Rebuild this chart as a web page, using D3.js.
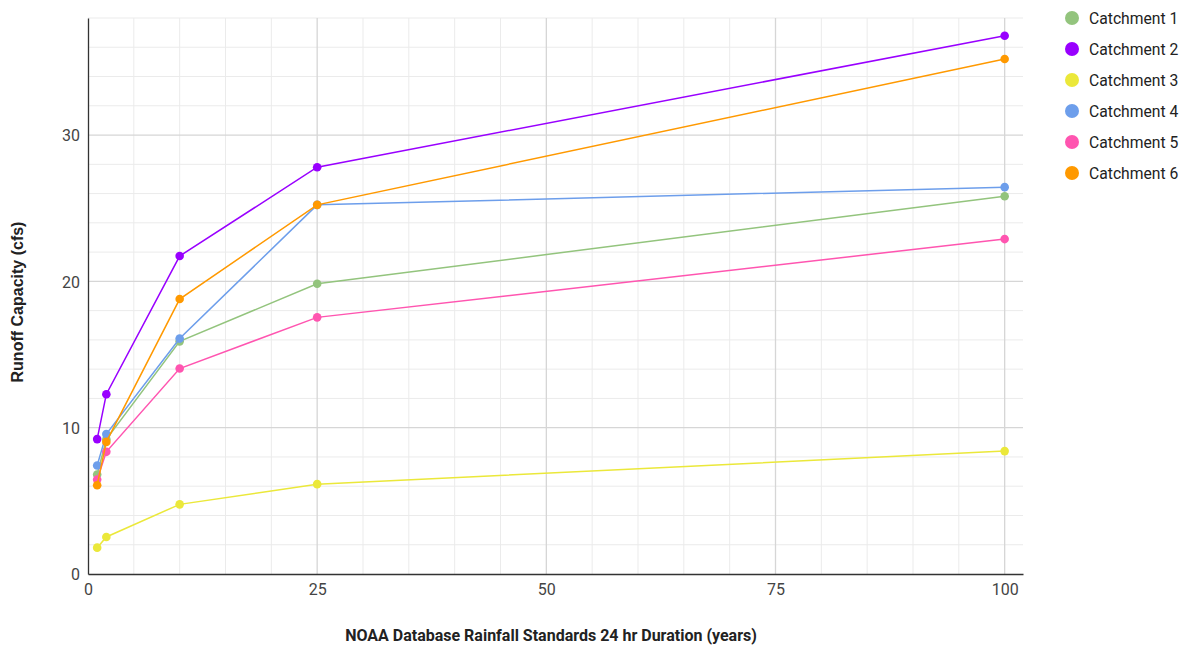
<!DOCTYPE html>
<html>
<head>
<meta charset="utf-8">
<script src="https://cdn.jsdelivr.net/npm/d3@7"></script>
<style>
  html, body { margin: 0; padding: 0; background: #fff; }
  svg { display: block; font-family: Roboto, "Noto Sans", sans-serif; }
</style>
</head>
<body>
<svg id="chart" width="1187" height="645"></svg>
<script>
// Return periods (years) on the x axis
const years = [1, 2, 10, 25, 100];

// Runoff capacity (cfs) per catchment
const catchment1 = [6.8, 9.2, 15.9, 19.84, 25.82];
const catchment2 = [9.22, 12.29, 21.73, 27.8, 36.79];
const catchment3 = [1.8, 2.53, 4.76, 6.14, 8.4];
const catchment4 = [7.42, 9.56, 16.09, 25.23, 26.44];
const catchment5 = [6.46, 8.35, 14.04, 17.54, 22.89];
const catchment6 = [6.07, 9.03, 18.79, 25.23, 35.2];

const seriesNames = ["Catchment 1", "Catchment 2", "Catchment 3", "Catchment 4", "Catchment 5", "Catchment 6"];
const seriesColors = ["#93c47d", "#9900ff", "#ebe83a", "#6d9eeb", "#ff55b0", "#ff9900"];

const xTicks = [0, 25, 50, 75, 100];
const yTicks = [0, 10, 20, 30];

const xTitle = "NOAA Database Rainfall Standards 24 hr Duration (years)";
const yTitle = "Runoff Capacity (cfs)";

const series = [catchment1, catchment2, catchment3, catchment4, catchment5, catchment6].map((vals, i) => ({
  name: seriesNames[i],
  color: seriesColors[i],
  points: vals.map((v, j) => ({ x: years[j], y: v }))
}));

const svg = d3.select("#chart");
const plot = { left: 88, right: 1023, top: 18, bottom: 574 };

const x = d3.scaleLinear().domain([0, 102]).range([plot.left, plot.right]);
const y = d3.scaleLinear().domain([0, 38]).range([plot.bottom, plot.top]);

const grid = svg.append("g");

// minor grid
grid.selectAll(".vminor").data(d3.range(5, 102, 5).filter(v => v % 25 !== 0))
  .join("line")
  .attr("x1", d => x(d)).attr("x2", d => x(d))
  .attr("y1", plot.top).attr("y2", plot.bottom)
  .attr("stroke", "#ebebeb").attr("stroke-width", 1);
grid.selectAll(".hminor").data(d3.range(2, 39, 2).filter(v => v % 10 !== 0))
  .join("line")
  .attr("x1", plot.left).attr("x2", plot.right)
  .attr("y1", d => y(d)).attr("y2", d => y(d))
  .attr("stroke", "#ebebeb").attr("stroke-width", 1);

// major grid
grid.selectAll(".vmajor").data(xTicks.filter(v => v > 0))
  .join("line")
  .attr("x1", d => x(d)).attr("x2", d => x(d))
  .attr("y1", plot.top).attr("y2", plot.bottom)
  .attr("stroke", "#d6d6d6").attr("stroke-width", 1.3);
grid.selectAll(".hmajor").data(yTicks.filter(v => v > 0))
  .join("line")
  .attr("x1", plot.left).attr("x2", plot.right)
  .attr("y1", d => y(d)).attr("y2", d => y(d))
  .attr("stroke", "#d6d6d6").attr("stroke-width", 1.3);

// axes
const xAxis = svg.append("g")
  .attr("transform", `translate(0,${plot.bottom})`)
  .call(d3.axisBottom(x).tickValues(xTicks).tickSize(0).tickPadding(10));
xAxis.select(".domain").attr("stroke", "#333").attr("stroke-width", 1.3);
xAxis.selectAll("text").attr("font-size", 16).attr("fill", "#444").attr("font-family", "Roboto, sans-serif");

const yAxis = svg.append("g")
  .attr("transform", `translate(${plot.left},0)`)
  .call(d3.axisLeft(y).tickValues(yTicks).tickSize(0).tickPadding(8));
yAxis.select(".domain").attr("stroke", "#333").attr("stroke-width", 1.3);
yAxis.selectAll("text").attr("font-size", 16).attr("fill", "#444").attr("font-family", "Roboto, sans-serif").attr("dy", "0.36em");

// axis titles
svg.append("text")
  .attr("x", 551).attr("y", 641)
  .attr("text-anchor", "middle")
  .attr("font-size", 16).attr("font-weight", "bold").attr("fill", "#222")
  .text(xTitle);
svg.append("text")
  .attr("transform", `translate(23,302) rotate(-90)`)
  .attr("text-anchor", "middle")
  .attr("font-family", "'Liberation Sans', Arial, sans-serif")
  .attr("font-size", 16).attr("font-weight", "bold").attr("fill", "#222")
  .text(yTitle);

// lines and points
const line = d3.line().x(d => x(d.x)).y(d => y(d.y));
const sg = svg.append("g").selectAll("g").data(series).join("g");
sg.append("path")
  .attr("d", d => line(d.points))
  .attr("fill", "none").attr("stroke", d => d.color).attr("stroke-width", 1.5);
sg.selectAll("circle").data(d => d.points.map(p => ({ ...p, color: d.color })))
  .join("circle")
  .attr("cx", d => x(d.x)).attr("cy", d => y(d.y)).attr("r", 4.3)
  .attr("fill", d => d.color);

// legend
const lg = svg.append("g").selectAll("g").data(series).join("g")
  .attr("transform", (d, i) => `translate(1072,${18 + i * 31})`);
lg.append("circle").attr("r", 7).attr("fill", d => d.color);
lg.append("text").attr("x", 17).attr("dy", "0.35em")
  .attr("font-size", 15.7).attr("fill", "#222")
  .text(d => d.name);
</script>
</body>
</html>
